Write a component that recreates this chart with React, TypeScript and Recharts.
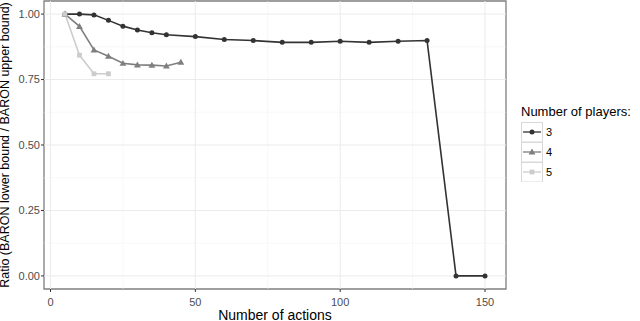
import {
  LineChart,
  Line,
  XAxis,
  YAxis,
  ReferenceLine,
  ReferenceArea,
} from "recharts";

const actions3 = [5, 10, 15, 20, 25, 30, 35, 40, 50, 60, 70, 80, 90, 100, 110, 120, 130, 140, 150];
const ratio3 = [1.0, 1.0, 0.997, 0.976, 0.954, 0.939, 0.929, 0.921, 0.914, 0.903, 0.899, 0.892, 0.892, 0.896, 0.892, 0.896, 0.899, 0, 0];

const actions4 = [5, 10, 15, 20, 25, 30, 35, 40, 45];
const ratio4 = [1.0, 0.953, 0.863, 0.839, 0.812, 0.806, 0.805, 0.802, 0.816];

const actions5 = [5, 10, 15, 20];
const ratio5 = [1.0, 0.843, 0.772, 0.772];

const playerLabels = ["3", "4", "5"];
const playerColors = ["#333333", "#7f7f7f", "#cccccc"];

const xTicks = [0, 50, 100, 150];
const xMinor = [25, 75, 125];
const yTicks = [0, 0.25, 0.5, 0.75, 1];
const yMinor = [0.125, 0.375, 0.625, 0.875];

const X_DOMAIN: [number, number] = [-2.25, 157.25];
const Y_DOMAIN: [number, number] = [-0.05, 1.05];

const font = "'Liberation Sans', Arial, Helvetica, sans-serif";

const toRows = (xs: number[], ys: number[]) => xs.map((x, i) => ({ x, y: ys[i] }));

const series = [
  { name: playerLabels[0], data: toRows(actions3, ratio3), color: playerColors[0], shape: "circle" },
  { name: playerLabels[1], data: toRows(actions4, ratio4), color: playerColors[1], shape: "triangle" },
  { name: playerLabels[2], data: toRows(actions5, ratio5), color: playerColors[2], shape: "square" },
];

function Marker({ cx, cy, shape, color }: { cx: number; cy: number; shape: string; color: string }) {
  if (cx == null || cy == null) return null;
  if (shape === "triangle") {
    const s = 3.4;
    return (
      <path
        d={`M${cx},${cy - s} L${cx + s},${cy + s * 0.75} L${cx - s},${cy + s * 0.75} Z`}
        fill={color}
      />
    );
  }
  if (shape === "square") {
    return <rect x={cx - 2.4} y={cy - 2.4} width={4.8} height={4.8} fill={color} />;
  }
  return <circle cx={cx} cy={cy} r={2.5} fill={color} />;
}

function LegendBox() {
  return (
    <div style={{ fontFamily: font, width: 125 }}>
      <div style={{ fontSize: 13, color: "#000", lineHeight: "15px", marginBottom: 3, whiteSpace: "nowrap" }}>
        Number of players:
      </div>
      {series.map((s) => (
        <div key={s.name} style={{ display: "flex", alignItems: "center", height: 20 }}>
          <svg width={22} height={20} style={{ display: "block" }}>
            <rect x={0.5} y={0.5} width={21} height={19.5} fill="#fff" stroke="#d9d9d9" />
            <line x1={2} x2={20} y1={10} y2={10} stroke={s.color} strokeWidth={1.3} />
            <Marker cx={11} cy={10} shape={s.shape} color={s.color} />
          </svg>
          <span style={{ fontSize: 11, color: "#000", marginLeft: 3 }}>{s.name}</span>
        </div>
      ))}
    </div>
  );
}

export default function App() {
  return (
    <div style={{ position: "absolute", left: 0, top: 0, width: 640, height: 321, background: "#fff" }}>
      <LineChart width={640} height={321} margin={{ top: 1, right: 134, bottom: 0, left: 0 }}>
        <XAxis
          type="number"
          dataKey="x"
          domain={X_DOMAIN}
          ticks={xTicks}
          allowDataOverflow
          height={32}
          axisLine={false}
          tickSize={3}
          tickMargin={6}
          tickLine={{ stroke: "#333333" }}
          tick={{ fill: "#4d4d4d", fontSize: 11, fontFamily: font }}
          label={{
            value: "Number of actions",
            position: "insideBottom",
            offset: 1,
            style: { fill: "#000", fontSize: 14, fontFamily: font },
          }}
        />
        <YAxis
          type="number"
          dataKey="y"
          domain={Y_DOMAIN}
          ticks={yTicks}
          allowDataOverflow
          width={44}
          axisLine={false}
          tickSize={3}
          tickMargin={1}
          tickLine={{ stroke: "#333333" }}
          tickFormatter={(v: number) => v.toFixed(2)}
          tick={{ fill: "#4d4d4d", fontSize: 11, fontFamily: font }}
          label={{
            value: "Ratio (BARON lower bound / BARON upper bound)",
            angle: -90,
            position: "insideLeft",
            offset: 5,
            style: { textAnchor: "middle", fill: "#000", fontSize: 12.5, fontFamily: font },
          }}
        />
        {xMinor.map((v) => (
          <ReferenceLine key={`xm${v}`} x={v} stroke="#f4f4f4" strokeWidth={0.6} />
        ))}
        {yMinor.map((v) => (
          <ReferenceLine key={`ym${v}`} y={v} stroke="#f4f4f4" strokeWidth={0.6} />
        ))}
        {xTicks.map((v) => (
          <ReferenceLine key={`xM${v}`} x={v} stroke="#ebebeb" strokeWidth={1} />
        ))}
        {yTicks.map((v) => (
          <ReferenceLine key={`yM${v}`} y={v} stroke="#ebebeb" strokeWidth={1} />
        ))}
        <ReferenceArea
          x1={X_DOMAIN[0]}
          x2={X_DOMAIN[1]}
          y1={Y_DOMAIN[0]}
          y2={Y_DOMAIN[1]}
          fill="none"
          stroke="#7f7f7f"
          strokeWidth={1.3}
        />
        {series.map((s) => (
          <Line
            key={s.name}
            data={s.data}
            dataKey="y"
            name={s.name}
            type="linear"
            stroke={s.color}
            strokeWidth={1.6}
            isAnimationActive={false}
            activeDot={false}
            dot={(p: any) => (
              <Marker key={`${s.name}-${p.index}`} cx={p.cx} cy={p.cy} shape={s.shape} color={s.color} />
            )}
          />
        ))}
      </LineChart>
      <div style={{ position: "absolute", left: 521, top: 104 }}>
        <LegendBox />
      </div>
    </div>
  );
}
